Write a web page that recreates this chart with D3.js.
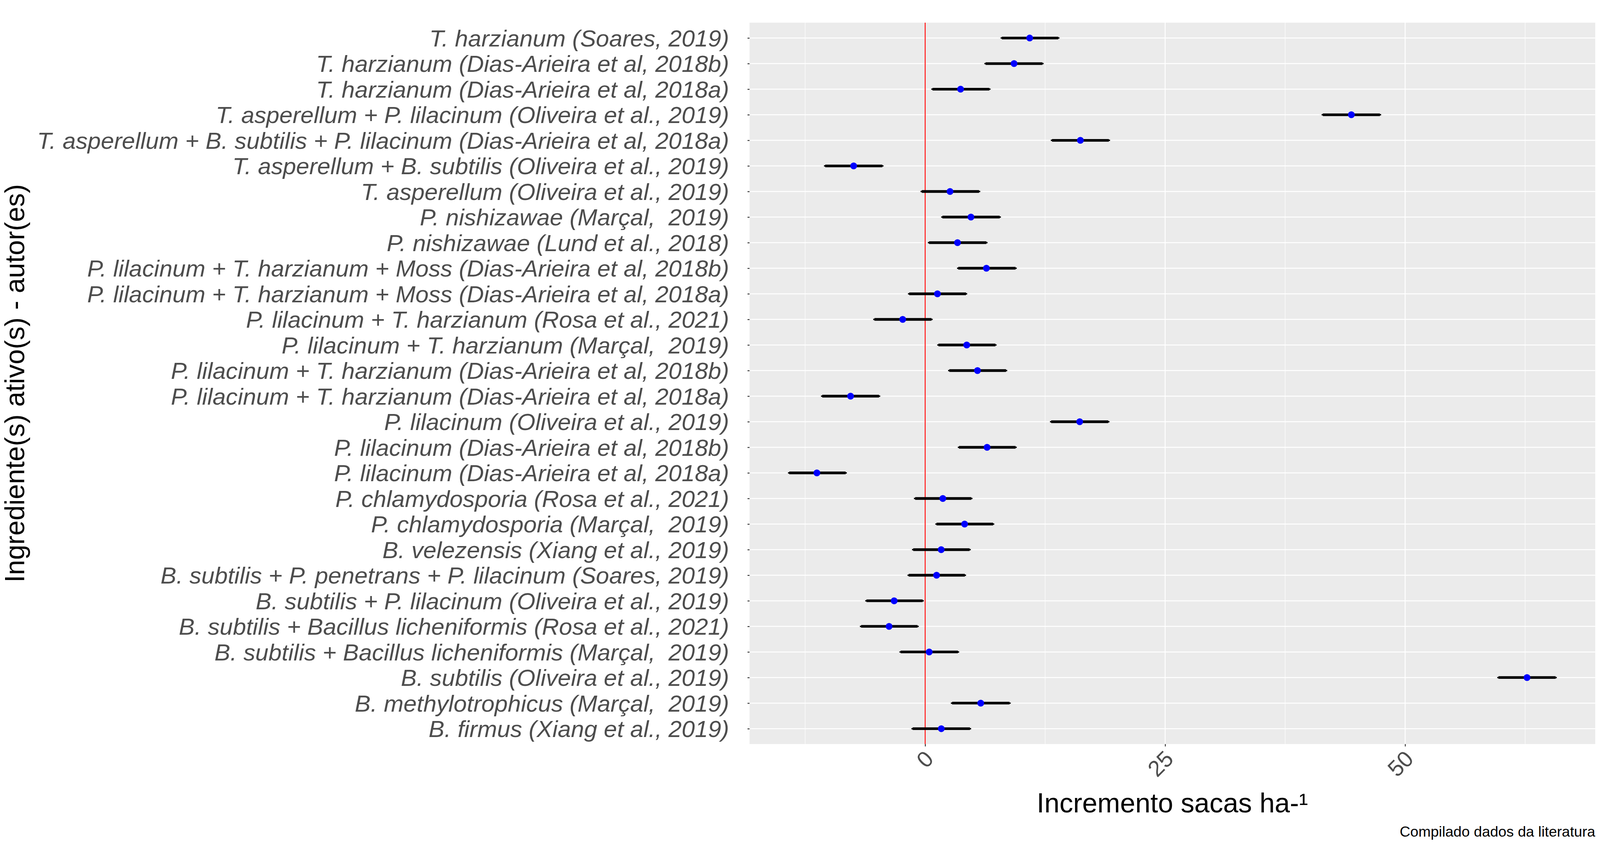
<!DOCTYPE html>
<html><head><meta charset="utf-8">
<script src="https://cdn.jsdelivr.net/npm/d3@7/dist/d3.min.js"></script>
<style>
html,body{margin:0;padding:0;background:#fff;overflow:hidden;width:100%;height:100%}
#chart{display:block;width:100vw;height:100vh}
svg text{font-family:"Liberation Sans",Arial,Helvetica,sans-serif}
</style>
</head><body>
<svg id="chart"></svg>
<script>
// ---- data (top row first) ----
const categories = [
  "T. harzianum (Soares, 2019)",
  "T. harzianum (Dias-Arieira et al, 2018b)",
  "T. harzianum (Dias-Arieira et al, 2018a)",
  "T. asperellum + P. lilacinum (Oliveira et al., 2019)",
  "T. asperellum + B. subtilis + P. lilacinum (Dias-Arieira et al, 2018a)",
  "T. asperellum + B. subtilis (Oliveira et al., 2019)",
  "T. asperellum (Oliveira et al., 2019)",
  "P. nishizawae (Marçal,  2019)",
  "P. nishizawae (Lund et al., 2018)",
  "P. lilacinum + T. harzianum + Moss (Dias-Arieira et al, 2018b)",
  "P. lilacinum + T. harzianum + Moss (Dias-Arieira et al, 2018a)",
  "P. lilacinum + T. harzianum (Rosa et al., 2021)",
  "P. lilacinum + T. harzianum (Marçal,  2019)",
  "P. lilacinum + T. harzianum (Dias-Arieira et al, 2018b)",
  "P. lilacinum + T. harzianum (Dias-Arieira et al, 2018a)",
  "P. lilacinum (Oliveira et al., 2019)",
  "P. lilacinum (Dias-Arieira et al, 2018b)",
  "P. lilacinum (Dias-Arieira et al, 2018a)",
  "P. chlamydosporia (Rosa et al., 2021)",
  "P. chlamydosporia (Marçal,  2019)",
  "B. velezensis (Xiang et al., 2019)",
  "B. subtilis + P. penetrans + P. lilacinum (Soares, 2019)",
  "B. subtilis + P. lilacinum (Oliveira et al., 2019)",
  "B. subtilis + Bacillus licheniformis (Rosa et al., 2021)",
  "B. subtilis + Bacillus licheniformis (Marçal,  2019)",
  "B. subtilis (Oliveira et al., 2019)",
  "B. methylotrophicus (Marçal,  2019)",
  "B. firmus (Xiang et al., 2019)"
];
const estimates = [10.89, 9.26, 3.69, 44.4, 16.17, -7.45, 2.59, 4.77, 3.37, 6.38,
  1.28, -2.34, 4.33, 5.45, -7.77, 16.1, 6.45, -11.28, 1.84, 4.11,
  1.67, 1.19, -3.23, -3.76, 0.42, 62.7, 5.79, 1.68];
const lower = [7.86, 6.17, 0.64, 41.3, 13.09, -10.54, -0.48, 1.67, 0.28, 3.32,
  -1.79, -5.41, 1.26, 2.39, -10.85, 13.0, 3.4, -14.29, -1.17, 1.06,
  -1.37, -1.84, -6.24, -6.8, -2.68, 59.6, 2.68, -1.43];
const upper = [13.99, 12.34, 6.81, 47.5, 19.26, -4.34, 5.74, 7.89, 6.5, 9.54,
  4.38, 0.78, 7.44, 8.55, -4.68, 19.2, 9.54, -8.16, 4.93, 7.2,
  4.75, 4.26, -0.14, -0.67, 3.54, 65.8, 8.91, 4.79];
const xTicks = [0, 25, 50];
const xMinorTicks = [-12.5, 12.5, 37.5, 62.5];
const refLine = 0;
const xTitle = "Incremento sacas ha-¹";
const yTitle = "Ingrediente(s) ativo(s) - autor(es)";
const caption = "Compilado dados da literatura";

// ---- layout (designed for 4694 x 2166; vertical positions follow the real viewport) ----
const W = 4694, H0 = 2166;
const vw = window.innerWidth || W, vh = window.innerHeight || H0;
const H = W * vh / vw;
const sy = H / H0;
const P = {left: 2199, right: 4680, top: 58 * sy, bottom: 1905 * sy};
const svg = d3.select("#chart").attr("viewBox", `0 0 ${W} ${H}`).attr("preserveAspectRatio", "xMidYMid meet");
svg.append("rect").attr("width", W).attr("height", H).attr("fill", "#fff");

const rows = categories.map((c, i) => ({cat: c, est: estimates[i], lo: lower[i], hi: upper[i]}));

const xmin = d3.min(lower), xmax = d3.max(upper);
const pad = (xmax - xmin) * 0.05;
const x = d3.scaleLinear().domain([xmin - pad, xmax + pad]).range([P.left, P.right]);
const y = d3.scalePoint().domain(categories).range([P.top, P.bottom]).padding(0.6);

// panel
svg.append("rect").attr("x", P.left).attr("y", P.top)
  .attr("width", P.right - P.left).attr("height", P.bottom - P.top).attr("fill", "#EBEBEB");

const grid = svg.append("g");
grid.selectAll(".vmin").data(xMinorTicks).join("line")
  .attr("x1", d => x(d)).attr("x2", d => x(d)).attr("y1", P.top).attr("y2", P.bottom)
  .attr("stroke", "#fff").attr("stroke-width", 1.4);
grid.selectAll(".vmaj").data(xTicks).join("line")
  .attr("x1", d => x(d)).attr("x2", d => x(d)).attr("y1", P.top).attr("y2", P.bottom)
  .attr("stroke", "#fff").attr("stroke-width", 2.8);
grid.selectAll(".hmaj").data(categories).join("line")
  .attr("x1", P.left).attr("x2", P.right).attr("y1", d => y(d)).attr("y2", d => y(d))
  .attr("stroke", "#fff").attr("stroke-width", 2.8);

// reference line
svg.append("line").attr("x1", x(refLine)).attr("x2", x(refLine))
  .attr("y1", P.top).attr("y2", P.bottom).attr("stroke", "#FF0000").attr("stroke-width", 2.6);

// error bars
const eb = svg.append("g");
eb.selectAll(".thin").data(rows).join("line")
  .attr("x1", d => x(d.lo)).attr("x2", d => x(d.hi))
  .attr("y1", d => y(d.cat)).attr("y2", d => y(d.cat))
  .attr("stroke", "#000").attr("stroke-width", 4);
eb.selectAll(".thick").data(rows).join("line")
  .attr("x1", d => x(d.lo) + 3.5).attr("x2", d => x(d.hi) - 3.5)
  .attr("y1", d => y(d.cat)).attr("y2", d => y(d.cat))
  .attr("stroke", "#000").attr("stroke-width", 7.8);

// points
svg.append("g").selectAll("circle").data(rows).join("circle")
  .attr("cx", d => x(d.est)).attr("cy", d => y(d.cat)).attr("r", 10)
  .attr("fill", "#0000FF");

// y axis
const yAxis = svg.append("g").attr("transform", `translate(${P.left},0)`)
  .call(d3.axisLeft(y).tickSize(6).tickPadding(0));
yAxis.select(".domain").remove();
yAxis.selectAll(".tick line").attr("stroke", "#333").attr("stroke-width", 2.6);
const yLabels = yAxis.selectAll(".tick text")
  .attr("fill", "#4D4D4D").attr("font-size", 67).attr("font-style", "italic")
  .attr("font-family", "Liberation Sans, Arial, sans-serif")
  .style("white-space", "pre").attr("x", 0).attr("dy", "0.36em").attr("text-anchor", "end");
// stretch labels horizontally so the longest one spans the same width as in the reference
let maxLen = 0;
yLabels.each(function() { maxLen = Math.max(maxLen, this.getComputedTextLength()); });
const targetLongest = 2030;
const kx = maxLen > 0 ? targetLongest / maxLen : 1;
yLabels.attr("transform", `translate(-60,0) scale(${kx},1)`);

// x axis
const xAxis = svg.append("g").attr("transform", `translate(0,${P.bottom})`)
  .call(d3.axisBottom(x).tickValues(xTicks).tickSize(7).tickFormat(d3.format("d")));
xAxis.select(".domain").remove();
xAxis.selectAll(".tick line").attr("stroke", "#333").attr("stroke-width", 2.6);
xAxis.selectAll(".tick text")
  .attr("fill", "#4D4D4D").attr("font-size", 66)
  .attr("font-family", "Liberation Sans, Arial, sans-serif")
  .attr("text-anchor", "end").attr("y", 0).attr("dy", "0.36em")
  .attr("transform", "translate(11,31) rotate(-45)");

// titles
svg.append("text").attr("x", (P.left + P.right) / 2).attr("y", 2080 * sy)
  .attr("text-anchor", "middle").attr("font-size", 80).attr("fill", "#000").text(xTitle);
svg.append("text").attr("transform", `translate(71,${(P.top + P.bottom) / 2}) rotate(-90)`)
  .attr("text-anchor", "middle").attr("font-size", 80).attr("fill", "#000").text(yTitle);
svg.append("text").attr("x", 4680).attr("y", 2142 * sy)
  .attr("text-anchor", "end").attr("font-size", 43).attr("fill", "#000").text(caption);
</script>
</body></html>
